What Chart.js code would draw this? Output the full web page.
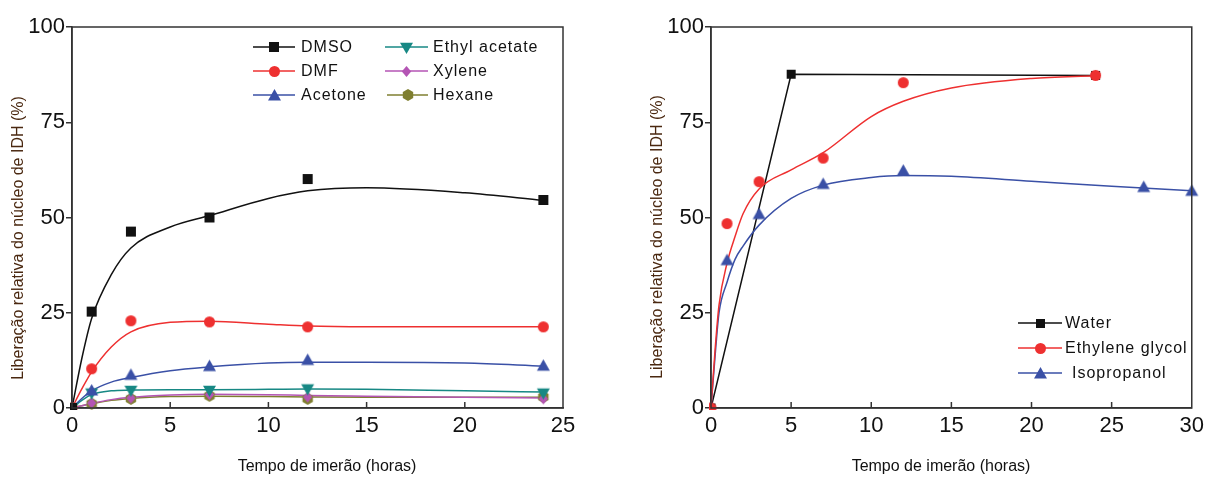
<!DOCTYPE html>
<html>
<head>
<meta charset="utf-8">
<script src="https://cdn.jsdelivr.net/npm/chart.js"></script>
<style>
  body { margin: 0; background: #fff; }
  #wrap { position: relative; width: 1209px; height: 477px; }
  canvas { position: absolute; top: 0; }
  #left { left: 0; }
  #right { left: 600px; }
</style>
</head>
<body>
<div id="wrap">
  <canvas id="left" width="600" height="477"></canvas>
  <canvas id="right" width="609" height="477"></canvas>
</div>
<script>
// ---- left panel: measured points ----
const leftTime = [0, 1, 3, 7, 12, 24];
const dmso = [0, 25.3, 46.3, 50, 60.1, 54.6];
const dmf = [0, 10.3, 22.9, 22.6, 21.3, 21.3];
const acetone = [0, 4.6, 8.7, 11, 12.6, 11.1];
const ethylAcetate = [0, 3.9, 4.6, 4.6, 5, 3.9];
const xylene = [0, 1.3, 2.6, 3.5, 2.9, 2.4];
const hexane = [0, 1.1, 2.4, 3.2, 2.4, 2.9];

// left panel: fitted curves
const leftFitTime = [0, 0.5, 1, 2, 3, 5, 7, 10, 12, 15, 20, 24];
const dmsoFit = [0, 13, 23.5, 35, 42, 47.5, 50.5, 55, 57, 57.8, 56.5, 54.5];
const dmfFit = [0, 5, 9.5, 16, 20, 22.5, 22.8, 22, 21.5, 21.3, 21.3, 21.3];
const acetoneFit = [0, 2.5, 4.5, 6.8, 8, 9.8, 10.8, 11.8, 12, 12, 11.8, 11];
const ethylAcetateFit = [0, 2, 3.5, 4.5, 4.7, 4.8, 4.8, 4.9, 5, 4.9, 4.5, 4.2];
const xyleneFit = [0, 0.6, 1.2, 2.2, 2.8, 3.4, 3.6, 3.5, 3.3, 3.1, 2.8, 2.6];
const hexaneFit = [0, 0.6, 1.1, 2, 2.5, 3, 3.1, 3, 2.9, 2.8, 2.8, 2.8];

// ---- right panel ----
const waterTime = [0, 5, 24];
const water = [0, 87.6, 87.3];
const glycolTime = [0, 1, 3, 7, 12, 24];
const glycol = [0, 48.4, 59.4, 65.6, 85.4, 87.3];
const isoTime = [0, 1, 3, 7, 12, 27, 30];
const iso = [0, 38.8, 50.9, 58.8, 62.3, 58, 57];

const glycolFitTime = [0, 0.25, 0.5, 1, 1.5, 2, 3, 5, 7, 10, 12, 15, 20, 24];
const glycolFit = [0, 15, 27, 38, 45, 51, 57.5, 62.5, 67, 76.5, 80.5, 84, 86.5, 87.2];
const isoFitTime = [0, 0.3, 0.5, 1, 1.5, 2, 3, 5, 7, 10, 12, 15, 20, 25, 30];
const isoFit = [0, 16, 25, 33, 39, 42.5, 48, 55, 58.5, 60.5, 61, 60.8, 59.5, 58.2, 57];

const xTicks = [0, 5, 10, 15, 20, 25, 30];
const yTicks = [0, 25, 50, 75, 100];
const xTitle = 'Tempo de imerão (horas)';
const yTitle = 'Liberação relativa do núcleo de IDH (%)';

const BLACK = '#111111', RED = '#ee3030', BLUE = '#3a50a6', TEAL = '#178884', PURPLE = '#b455b4', OLIVE = '#7f7f30';
const FONT = '"Liberation Sans", Arial, sans-serif';

function pts(xs, ys) {
    return xs.map((x, i) => ({ x: x, y: ys[i] }));
}

function makeMarker(shape, color, size) {
    const c = document.createElement('canvas');
    const s = size + 2;
    c.width = s; c.height = s;
    const g = c.getContext('2d');
    const m = s / 2, r = size / 2;
    g.fillStyle = color;
    g.beginPath();
    if (shape === 'square') {
        g.rect(m - r, m - r, size, size);
    } else if (shape === 'circle') {
        g.arc(m, m, r, 0, Math.PI * 2);
    } else if (shape === 'triangle') {
        g.moveTo(m, m - r); g.lineTo(m + r, m + r * 0.75); g.lineTo(m - r, m + r * 0.75);
    } else if (shape === 'down') {
        g.moveTo(m, m + r); g.lineTo(m + r, m - r * 0.75); g.lineTo(m - r, m - r * 0.75);
    } else if (shape === 'diamond') {
        g.moveTo(m, m - r); g.lineTo(m + r * 0.85, m); g.lineTo(m, m + r); g.lineTo(m - r * 0.85, m);
    } else if (shape === 'hexagon') {
        for (let k = 0; k < 6; k++) {
            const a = Math.PI / 6 + k * Math.PI / 3;
            const px = m + r * Math.cos(a), py = m + r * Math.sin(a);
            if (k === 0) g.moveTo(px, py); else g.lineTo(px, py);
        }
    }
    g.closePath();
    g.fill();
    return c;
}

function markerSet(label, xs, ys, color, marker) {
    return {
        label: label, data: pts(xs, ys), showLine: false,
        pointStyle: marker, pointRadius: 5, borderColor: color, backgroundColor: color, order: 1,
        clip: { left: 2, bottom: 2, right: 10, top: 10 }
    };
}

function curveSet(xs, ys, color) {
    return {
        data: pts(xs, ys), showLine: true, pointRadius: 0, borderColor: color,
        borderWidth: 1.5, cubicInterpolationMode: 'monotone', order: 2
    };
}

function panelPlugin(cfg) {
    return {
        id: 'panel',
        afterDraw(chart) {
            const ctx = chart.ctx, a = chart.chartArea, xs = chart.scales.x;
            ctx.save();
            ctx.strokeStyle = '#333'; ctx.lineWidth = 1.5;
            ctx.strokeRect(a.left, a.top, a.right - a.left, a.bottom - a.top);
            // ticks on the x axis point inwards
            xs.ticks.forEach((t, i) => {
                if (i === 0 || i === xs.ticks.length - 1) return;
                const px = xs.getPixelForValue(t.value);
                ctx.beginPath(); ctx.moveTo(px, a.bottom); ctx.lineTo(px, a.bottom - 6); ctx.stroke();
            });
            ctx.textAlign = 'center'; ctx.textBaseline = 'middle';
            ctx.font = '16px ' + FONT;
            ctx.fillStyle = BLACK;
            ctx.fillText(xTitle, cfg.xTitleX, cfg.xTitleY);
            ctx.save();
            ctx.translate(cfg.yTitleX, cfg.yTitleY);
            ctx.rotate(-Math.PI / 2);
            ctx.fillStyle = '#4a2810';
            ctx.fillText(yTitle, 0, 0);
            ctx.restore();
            // legend
            ctx.textAlign = 'left';
            ctx.letterSpacing = '1px';
            cfg.legend.forEach(it => {
                ctx.strokeStyle = it.color; ctx.lineWidth = 1.5;
                ctx.beginPath(); ctx.moveTo(it.x, it.y); ctx.lineTo(it.x + it.len, it.y); ctx.stroke();
                ctx.drawImage(it.marker, Math.round(it.x + it.len / 2 - it.marker.width / 2), Math.round(it.y - it.marker.height / 2));
                ctx.fillStyle = BLACK;
                ctx.fillText(it.label, it.textX, it.y + 1);
            });
            ctx.restore();
        }
    };
}

function baseOptions(xMax, padLeft, padRight, yWidth) {
    return {
        responsive: false,
        animation: false,
        events: [],
        devicePixelRatio: 1,
        layout: { padding: { left: padLeft, right: padRight, top: 27, bottom: 0 } },
        plugins: { legend: { display: false }, tooltip: { enabled: false } },
        scales: {
            x: {
                type: 'linear', min: 0, max: xMax,
                afterBuildTicks: s => { s.ticks = xTicks.filter(v => v <= xMax).map(v => ({ value: v })); },
                afterFit: s => { s.height = 69; },
                grid: { display: true, drawOnChartArea: false, drawTicks: false },
                border: { display: true, color: '#333', width: 1.5 },
                ticks: { color: BLACK, font: { family: FONT, size: 22 }, padding: 5, maxRotation: 0 }
            },
            y: {
                type: 'linear', min: 0, max: 100,
                afterBuildTicks: s => { s.ticks = yTicks.map(v => ({ value: v })); },
                afterFit: s => { s.width = yWidth; },
                grid: { display: true, drawOnChartArea: false, drawTicks: true, tickLength: 6, color: '#333', lineWidth: 1.5 },
                border: { display: true, color: '#333', width: 1.5 },
                ticks: { color: BLACK, font: { family: FONT, size: 22 }, padding: 1 }
            }
        }
    };
}

const mk = {
    dmso: makeMarker('square', BLACK, 10),
    dmf: makeMarker('circle', RED, 11),
    acetone: makeMarker('triangle', BLUE, 13),
    ethyl: makeMarker('down', TEAL, 13),
    xylene: makeMarker('diamond', PURPLE, 11),
    hexane: makeMarker('hexagon', OLIVE, 12),
    water: makeMarker('square', BLACK, 9),
    glycol: makeMarker('circle', RED, 11),
    iso: makeMarker('triangle', BLUE, 13)
};

// left chart
new Chart(document.getElementById('left'), {
    type: 'line',
    data: {
        datasets: [
            curveSet(leftFitTime, dmsoFit, BLACK),
            curveSet(leftFitTime, dmfFit, RED),
            curveSet(leftFitTime, acetoneFit, BLUE),
            curveSet(leftFitTime, ethylAcetateFit, TEAL),
            curveSet(leftFitTime, xyleneFit, PURPLE),
            curveSet(leftFitTime, hexaneFit, OLIVE),
            markerSet('DMSO', leftTime, dmso, BLACK, mk.dmso),
            markerSet('DMF', leftTime, dmf, RED, mk.dmf),
            markerSet('Acetone', leftTime, acetone, BLUE, mk.acetone),
            markerSet('Ethyl acetate', leftTime, ethylAcetate, TEAL, mk.ethyl),
            markerSet('Xylene', leftTime, xylene, PURPLE, mk.xylene),
            markerSet('Hexane', leftTime, hexane, OLIVE, mk.hexane)
        ]
    },
    options: baseOptions(25, 7, 37, 65),
    plugins: [panelPlugin({
        xTitleX: 327, xTitleY: 467, yTitleX: 19, yTitleY: 238,
        legend: [
            { label: 'DMSO', color: BLACK, marker: mk.dmso, x: 253, len: 42, textX: 301, y: 47 },
            { label: 'DMF', color: RED, marker: mk.dmf, x: 253, len: 42, textX: 301, y: 71 },
            { label: 'Acetone', color: BLUE, marker: mk.acetone, x: 253, len: 42, textX: 301, y: 95 },
            { label: 'Ethyl acetate', color: TEAL, marker: mk.ethyl, x: 385, len: 43, textX: 433, y: 47 },
            { label: 'Xylene', color: PURPLE, marker: mk.xylene, x: 385, len: 43, textX: 433, y: 71 },
            { label: 'Hexane', color: OLIVE, marker: mk.hexane, x: 387, len: 41, textX: 433, y: 95 }
        ]
    })]
});

// right chart
new Chart(document.getElementById('right'), {
    type: 'line',
    data: {
        datasets: [
            { data: pts(waterTime, water), showLine: true, tension: 0, borderColor: BLACK, borderWidth: 1.5,
              pointStyle: mk.water, pointRadius: 5, order: 3 },
            curveSet(glycolFitTime, glycolFit, RED),
            curveSet(isoFitTime, isoFit, BLUE),
            markerSet('Ethylene glycol', glycolTime, glycol, RED, mk.glycol),
            markerSet('Isopropanol', isoTime, iso, BLUE, mk.iso)
        ]
    },
    options: baseOptions(30, 46, 14, 65),
    plugins: [panelPlugin({
        xTitleX: 341, xTitleY: 467, yTitleX: 58, yTitleY: 237,
        legend: [
            { label: 'Water', color: BLACK, marker: mk.water, x: 418, len: 44, textX: 465, y: 323 },
            { label: 'Ethylene glycol', color: RED, marker: mk.glycol, x: 418, len: 44, textX: 465, y: 348 },
            { label: 'Isopropanol', color: BLUE, marker: mk.iso, x: 418, len: 44, textX: 472, y: 373 }
        ]
    })]
});
</script>
</body>
</html>
